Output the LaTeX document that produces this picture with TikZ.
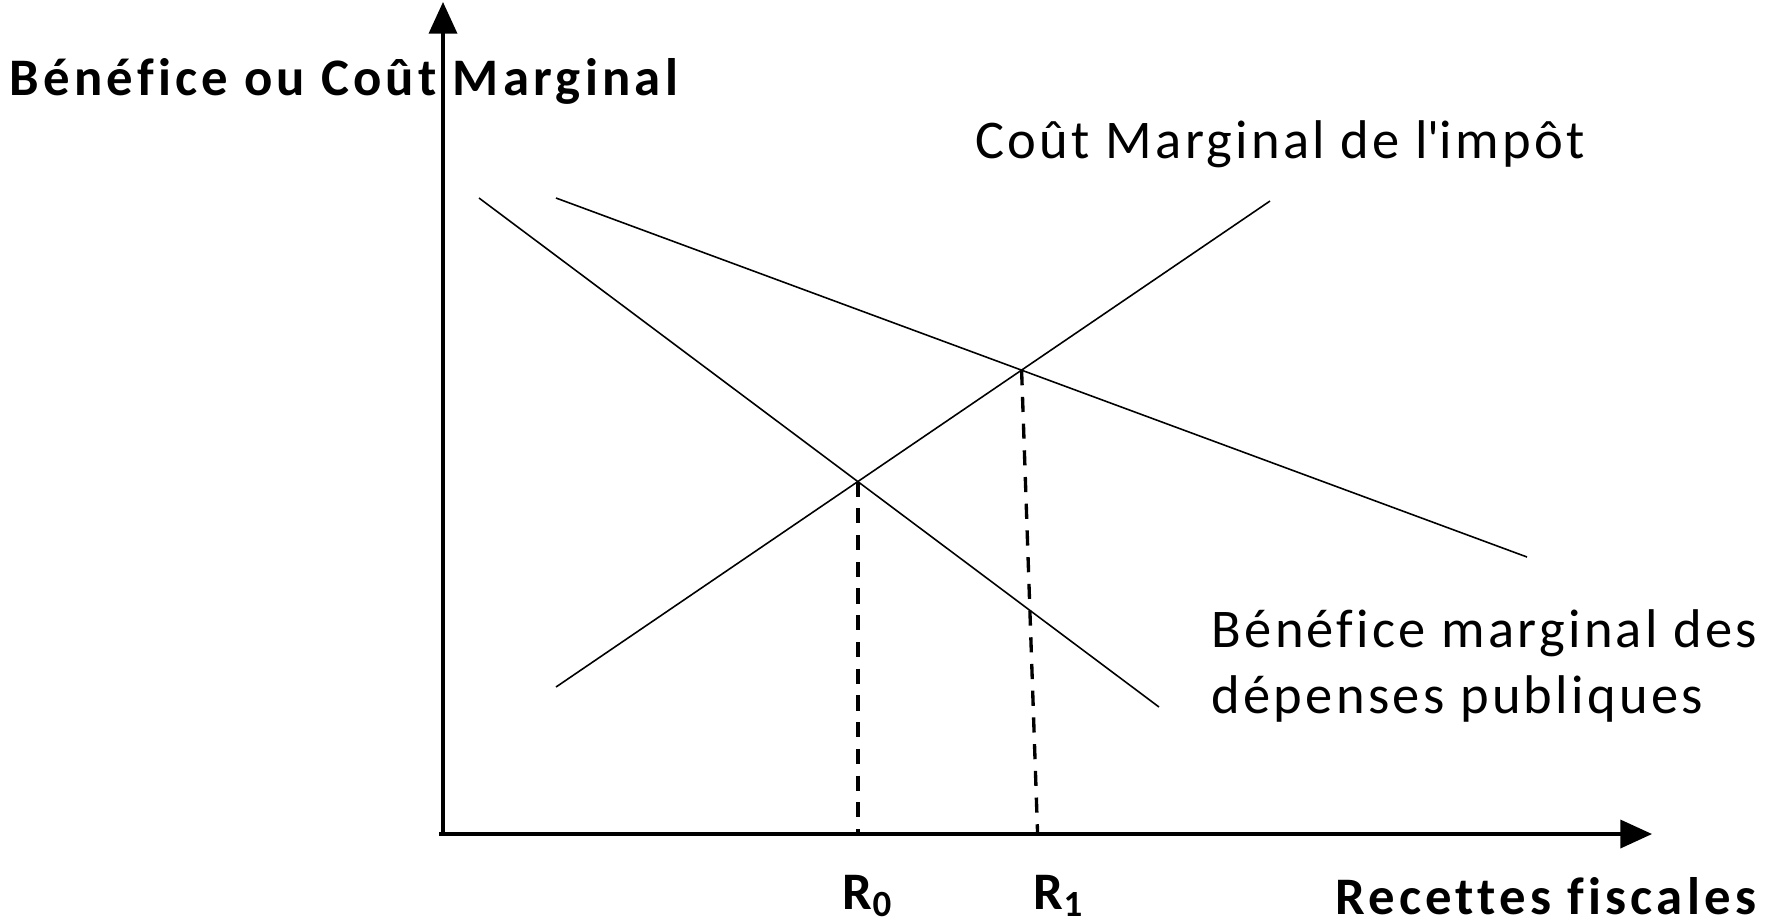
\documentclass[tikz,border=0pt]{standalone}
\usepackage{fontspec}
\setmainfont{Carlito}[Ligatures=NoCommon]
\newfontfamily\axfont{Carlito}[Ligatures=NoCommon,LetterSpace=8]
\newfontfamily\crvfont{Carlito}[Ligatures=NoCommon,LetterSpace=6]
\usetikzlibrary{arrows.meta,positioning,calc}
\definecolor{Ink}{HTML}{000000}
\tikzset{
  >=Latex,
  axis/.style={-{Triangle[length=9pt,width=8pt]},line width=.9pt,draw=Ink},
  curve/.style={line width=.45pt,draw=Ink},
  guide/.style={dashed,dash pattern=on 4.3pt off 3.3pt,line width=.95pt,draw=Ink},
  axlab/.style={font=\fontsize{15}{18}\selectfont\axfont\bfseries,inner sep=0pt},
  crvlab/.style={font=\fontsize{15.5}{19}\selectfont\crvfont,inner sep=0pt,align=left}
}

\begin{document}
\begin{tikzpicture}[x=0.01cm,y=-0.01cm]
        \useasboundingbox (0,0) rectangle (1767,923);
        % axes
        \coordinate (o) at (443,834);
        \coordinate (ytop) at (443,2);
        \coordinate (xend) at (1652,834);
        \draw[axis] (o)--(ytop);
        \draw[axis] ($(o)+(-4,0)$)--(xend);
        % curves
        \coordinate (cm1) at (556,687);
        \coordinate (cm2) at (1270,201);
        \coordinate (ba1) at (479,198);
        \coordinate (ba2) at (1159,707);
        \coordinate (bb1) at (556,198);
        \coordinate (bb2) at (1527,557);
        \draw[curve] (cm1)--(cm2);
        \draw[curve] (ba1)--(ba2);
        \draw[curve] (bb1)--(bb2);
        % equilibria
        \coordinate (e0) at (intersection of cm1--cm2 and ba1--ba2);
        \coordinate (e1) at (intersection of cm1--cm2 and bb1--bb2);
        \coordinate (r0) at (e0 |- o);
        \coordinate (r1) at ($(e1 |- o)+(16,0)$);
        \draw[guide] (e0)--(r0);
        \draw[guide] (e1)--(r1);
        % labels
        \node[axlab,anchor=west] (ytitle) at (9,81) {Bénéfice ou Coût Marginal};
        \node[axlab,anchor=east] (xtitle) at (1757,896) {Recettes fiscales};
        \node[axlab] (lr0) at (868,896) {R\textsubscript{0}};
        \node[axlab] (lr1) at (1059,896) {R\textsubscript{1}};
        \node[crvlab,anchor=west] (lcm) at (975,144) {Coût Marginal de l\textquotesingle impôt};
        \node[crvlab,anchor=west] (lbm) at (1211,666) {Bénéfice marginal des\\dépenses publiques};
      \end{tikzpicture}
\end{document}
